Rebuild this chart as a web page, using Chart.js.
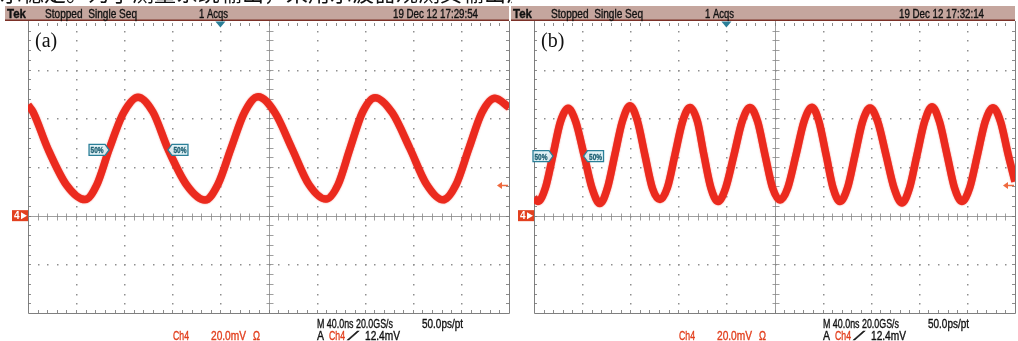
<!DOCTYPE html>
<html>
<head>
<meta charset="utf-8">
<script src="https://cdn.jsdelivr.net/npm/chart.js@4.4.1/dist/chart.umd.min.js"></script>
<style>
  html, body { margin: 0; padding: 0; background: #fff; }
  body { width: 1018px; height: 341px; position: relative; overflow: hidden; }
  canvas { position: absolute; top: 0; }
</style>
</head>
<body>
<canvas id="scopeA" width="512" height="341" style="left:0px"></canvas>
<canvas id="scopeB" width="512" height="341" style="left:506px"></canvas>
<script>
// Screen scale: 40 ns/div horizontally, 20 mV/div vertically.
const TIME_MIN = -200, TIME_MAX = 200, TIME_DIV = 40;
const VOLT_MIN = -40, VOLT_MAX = 80, VOLT_DIV = 20;

// Capture (a): ~10 MHz sine, time in ns, Ch4 level in mV
const timeA = [-200, -195.8, -183.4, -168, -152.6, -142.6, -132.6, -120.5, -108.5, -96, -83.6, -68.2,
               -52.8, -42, -31.2, -20, -8.7, 5.4, 19.5, 33.6, 47.8, 57.8, 67.8, 78.2, 88.6, 103,
               117.7, 131.4, 145.1, 156, 166.7, 177.5, 188.3, 200];
const voltA = [45.5, 42.6, 27.4, 12.6, 6.6, 12.9, 27.2, 42.3, 48.7, 42.5, 27.4, 12.7,
               6.4, 12.9, 27.6, 42.4, 48.9, 42.3, 27.6, 12.8, 6.8, 12.7, 27.6, 42.5, 48.5, 42.2,
               27.5, 12.9, 6.5, 12.8, 27.7, 42.4, 48.3, 44.5];

// Capture (b): ~20 MHz sine
const timeB = [-200, -196.7, -190.5, -184.2, -178, -171.7, -165.3, -158.4, -151.8, -145.1, -138.9, -132.7,
               -126.5, -120.2, -113.9, -107.8, -101.5, -95.2, -89, -82.8, -76.5, -70.3, -64, -58.7,
               -52.9, -47, -40.6, -33.7, -27, -20.4, -14, -7.9, -1.6, 4.6, 11, 17.9, 24.5, 31.2,
               37, 42.9, 48.7, 54.5, 60.7, 67, 73.2, 79.4, 85.9, 92.7, 99.4, 106, 112.3, 118.5,
               124.8, 131, 137.2, 143.5, 149.7, 155.9, 162.3, 168.8, 175.2, 181.7, 188, 194.4, 200];
const voltB = [7.2, 5.8, 11.4, 25.0, 38.6, 44.1, 38.6, 25.0, 11.4, 5.0, 11.4, 25.2,
               38.8, 45.2, 38.8, 25.0, 11.2, 6.6, 11.6, 25.0, 38.6, 44.5, 38.6, 25.0,
               11.4, 5.8, 11.4, 25.0, 38.6, 44.5, 38.6, 25.0, 11.4, 6.4, 11.4, 25.0, 38.6, 44.6,
               38.6, 25.0, 11.4, 5.8, 11.4, 25.0, 38.6, 44.2, 38.6, 25.0, 11.4, 5.2, 11.4, 25.0,
               38.6, 44.8, 38.6, 25.0, 11.4, 5.8, 11.4, 25.0, 38.6, 44.4, 38.6, 25.0, 14.0];

// 50% reference crossings (ns) and level (mV)
const halfCrossA = [-132.6, -83.6];
const halfLevelA = 27;
const halfCrossB = [-184.2, -158.8];
const halfLevelB = 24.5;

// Trigger settings
const triggerTime = -40;     // ns
const triggerLevel = 12.4;   // mV
const groundLevel = 0;       // mV

// Status texts
const statusA = { tag: '(a)', stamp: '19 Dec 12 17:29:54' };
const statusB = { tag: '(b)', stamp: '19 Dec 12 17:32:14' };
const captionText = '示稳定。为了测量系统输出，采用示波器观测其输出波形，如图所示。';

const TRACE_RED = '#eb2a1e';
const CH_RED = '#e2401f';
const TEAL = '#2b7f98';

// Draws text squeezed or stretched horizontally to a given width,
// with a hairline stroke to give the screen font its weight.
function fitText(ctx, text, x, y, width, font, color) {
  ctx.save();
  ctx.font = font;
  ctx.fillStyle = color;
  ctx.strokeStyle = color;
  ctx.lineWidth = 0.35;
  ctx.textBaseline = 'alphabetic';
  ctx.textAlign = 'left';
  const w = ctx.measureText(text).width;
  ctx.translate(x, y);
  ctx.scale(width / w, 1);
  ctx.fillText(text, 0, 0);
  ctx.strokeText(text, 0, 0);
  ctx.restore();
}

const SANS = '"Liberation Sans", Arial, sans-serif';

function drawGrid(chart) {
  const ctx = chart.ctx;
  const xs = chart.scales.x, ys = chart.scales.y;
  const { left, right, top, bottom } = chart.chartArea;
  const cx = Math.round(xs.getPixelForValue(0)) + 0.5;
  const cy = Math.round(ys.getPixelForValue(0)) + 0.5;
  const subT = TIME_DIV / 5, subV = VOLT_DIV / 5;
  ctx.save();
  // dotted division lines
  ctx.fillStyle = '#8f8f8f';
  for (let t = TIME_MIN + TIME_DIV; t < TIME_MAX; t += TIME_DIV) {
    if (t === 0) continue;
    const x = Math.round(xs.getPixelForValue(t));
    for (let v = VOLT_MIN + subV; v < VOLT_MAX; v += subV) {
      const y = Math.round(ys.getPixelForValue(v));
      ctx.fillRect(x, y, 1.5, 1.5);
    }
  }
  for (let v = VOLT_MIN + VOLT_DIV; v < VOLT_MAX; v += VOLT_DIV) {
    if (v === 0) continue;
    const y = Math.round(ys.getPixelForValue(v));
    for (let t = TIME_MIN + subT; t < TIME_MAX; t += subT) {
      const x = Math.round(xs.getPixelForValue(t));
      ctx.fillRect(x, y, 1.5, 1.5);
    }
  }
  // center cross with minor ticks
  ctx.strokeStyle = 'rgba(135,135,135,0.8)';
  ctx.lineWidth = 1;
  ctx.beginPath();
  ctx.moveTo(cx, top); ctx.lineTo(cx, bottom);
  ctx.moveTo(left, cy); ctx.lineTo(right, cy);
  for (let v = VOLT_MIN + subV; v < VOLT_MAX; v += subV) {
    const y = Math.round(ys.getPixelForValue(v)) + 0.5;
    ctx.moveTo(cx - 3, y); ctx.lineTo(cx + 4, y);
  }
  for (let t = TIME_MIN + subT; t < TIME_MAX; t += subT) {
    const x = Math.round(xs.getPixelForValue(t)) + 0.5;
    ctx.moveTo(x, cy - 3); ctx.lineTo(x, cy + 4);
  }
  ctx.stroke();
  // border with inward ticks
  ctx.strokeStyle = '#7f7f7f';
  ctx.beginPath();
  ctx.moveTo(left + 0.5, top); ctx.lineTo(left + 0.5, bottom + 0.5);
  ctx.lineTo(right + 0.5, bottom + 0.5); ctx.lineTo(right + 0.5, top);
  ctx.stroke();
  ctx.strokeStyle = 'rgba(120,120,120,0.85)';
  ctx.beginPath();
  for (let t = TIME_MIN + subT; t < TIME_MAX; t += subT) {
    const x = Math.round(xs.getPixelForValue(t)) + 0.5;
    ctx.moveTo(x, bottom); ctx.lineTo(x, bottom - 3);
    ctx.moveTo(x, top + 2); ctx.lineTo(x, top + 5);
  }
  for (let v = VOLT_MIN + subV; v < VOLT_MAX; v += subV) {
    const y = Math.round(ys.getPixelForValue(v)) + 0.5;
    ctx.moveTo(left, y); ctx.lineTo(left + 3, y);
    ctx.moveTo(right, y); ctx.lineTo(right - 3, y);
  }
  ctx.stroke();
  ctx.restore();
}

function drawHeader(chart, status, withCaption) {
  const ctx = chart.ctx;
  const { left, right } = chart.chartArea;
  ctx.save();
  if (withCaption) {
    ctx.font = '22px "Noto Sans CJK SC", sans-serif';
    ctx.fillStyle = '#111';
    ctx.textBaseline = 'alphabetic';
    ctx.fillText(captionText, 0, 0.5);
  }
  ctx.fillStyle = '#c5a69e';
  ctx.fillRect(left - 23, 6, right - left + 23, 14);
  ctx.fillStyle = '#7b3027';
  ctx.fillRect(left - 23, 19.5, right - left + 23, 1.5);
  ctx.restore();
  fitText(ctx, 'Tek', left - 21, 17.5, 19, 'bold 12px ' + SANS, '#111');
  fitText(ctx, 'Stopped  Single Seq', left + 17, 17.5, 92, '12px ' + SANS, '#111');
  fitText(ctx, '1 Acqs', left + 171, 17.5, 29, '12px ' + SANS, '#111');
  fitText(ctx, status.stamp, left + 365, 17.5, 85, '12px ' + SANS, '#111');
  // panel tag
  ctx.save();
  ctx.font = '20px "Liberation Serif", "DejaVu Serif", serif';
  ctx.fillStyle = '#111';
  ctx.textBaseline = 'alphabetic';
  ctx.fillText(status.tag, left + 7, 46.5);
  ctx.restore();
}

function drawFooter(chart) {
  const ctx = chart.ctx;
  const { left } = chart.chartArea;
  const f = '12px ' + SANS;
  fitText(ctx, 'M 40.0ns 20.0GS/s', left + 289, 327.5, 76, f, '#111');
  fitText(ctx, '50.0ps/pt', left + 394, 327.5, 41, f, '#111');
  fitText(ctx, 'Ch4', left + 145, 339.5, 16, f, CH_RED);
  fitText(ctx, '20.0mV', left + 183, 339.5, 35, f, CH_RED);
  fitText(ctx, 'Ω', left + 225, 339.5, 7, f, CH_RED);
  fitText(ctx, 'A', left + 289, 339.5, 7, f, '#111');
  fitText(ctx, 'Ch4', left + 301, 339.5, 16, f, CH_RED);
  fitText(ctx, '⁄', left + 324, 339.5, 4, f, '#111');
  fitText(ctx, '12.4mV', left + 337, 339.5, 35, f, '#111');
}

function drawMarkers(chart, crossings, level) {
  const ctx = chart.ctx;
  const xs = chart.scales.x, ys = chart.scales.y;
  const { left, right, top } = chart.chartArea;
  ctx.save();
  // trigger position marker
  const tx = xs.getPixelForValue(triggerTime);
  ctx.fillStyle = TEAL;
  ctx.beginPath();
  ctx.moveTo(tx - 5, top + 0.5); ctx.lineTo(tx + 5, top + 0.5); ctx.lineTo(tx, top + 6.5);
  ctx.closePath(); ctx.fill();
  // trigger level arrow
  const ty = ys.getPixelForValue(triggerLevel);
  ctx.strokeStyle = '#ef6a3f'; ctx.fillStyle = '#ef6a3f'; ctx.lineWidth = 1.5;
  ctx.beginPath(); ctx.moveTo(right - 9, ty); ctx.lineTo(right - 1, ty); ctx.stroke();
  ctx.beginPath(); ctx.moveTo(right - 12, ty); ctx.lineTo(right - 7, ty - 3.5); ctx.lineTo(right - 7, ty + 3.5);
  ctx.closePath(); ctx.fill();
  // channel ground marker
  const gy = ys.getPixelForValue(groundLevel);
  ctx.fillStyle = CH_RED;
  ctx.fillRect(left - 16, gy - 5.5, 16, 11);
  ctx.fillStyle = '#fff';
  ctx.font = 'bold 10px ' + SANS;
  ctx.textBaseline = 'middle';
  ctx.fillText('4', left - 14, gy + 0.5);
  ctx.beginPath(); ctx.moveTo(left - 7, gy - 3.5); ctx.lineTo(left - 1, gy); ctx.lineTo(left - 7, gy + 3.5);
  ctx.closePath(); ctx.fill();
  // 50% reference flags
  const ly = ys.getPixelForValue(level);
  crossings.forEach((t, i) => {
    const px = xs.getPixelForValue(t);
    const dir = i === 0 ? -1 : 1;       // first flag sits left of its crossing
    const tip = px, base = px + dir * 4, far = px + dir * 20;
    const x0 = Math.min(base, far), x1 = Math.max(base, far);
    ctx.beginPath();
    ctx.moveTo(tip, ly);
    ctx.lineTo(base, ly - 5.5); ctx.lineTo(far, ly - 5.5);
    ctx.lineTo(far, ly + 5.5); ctx.lineTo(base, ly + 5.5);
    ctx.closePath();
    ctx.fillStyle = 'rgba(222,240,244,0.95)';
    ctx.fill();
    ctx.strokeStyle = TEAL; ctx.lineWidth = 1.3; ctx.stroke();
    fitText(ctx, '50%', x0 + 1.5, ly + 3.5, x1 - x0 - 3, 'bold 9px ' + SANS, '#1f6174');
  });
  ctx.restore();
}

function makeScope(canvasId, times, volts, status, crossings, level, withCaption) {
  const points = times.map((t, i) => ({ x: t, y: volts[i] }));
  const screenPlugin = {
    id: 'screen' + canvasId,
    beforeDatasetsDraw(chart) {
      drawGrid(chart);
      drawHeader(chart, status, withCaption);
      drawFooter(chart);
    },
    beforeDatasetDraw(chart) {
      chart.ctx.save();
      chart.ctx.shadowColor = 'rgba(235,42,30,0.7)';
      chart.ctx.shadowBlur = 1.5;
    },
    afterDatasetDraw(chart) {
      chart.ctx.restore();
    },
    afterDatasetsDraw(chart) {
      drawMarkers(chart, crossings, level);
    }
  };
  return new Chart(document.getElementById(canvasId), {
    type: 'line',
    data: {
      datasets: [{
        data: points,
        borderColor: TRACE_RED,
        borderWidth: 7.5,
        pointRadius: 0,
        fill: false,
        cubicInterpolationMode: 'monotone',
        clip: { left: 0, right: 0, top: 8, bottom: 8 }
      }]
    },
    options: {
      responsive: false,
      animation: false,
      events: [],
      layout: { padding: { left: 28, top: 21, right: 3, bottom: 28 } },
      scales: {
        x: { type: 'linear', min: TIME_MIN, max: TIME_MAX, display: false },
        y: { type: 'linear', min: VOLT_MIN, max: VOLT_MAX, display: false }
      },
      plugins: { legend: { display: false }, tooltip: { enabled: false } }
    },
    plugins: [screenPlugin]
  });
}

makeScope('scopeA', timeA, voltA, statusA, halfCrossA, halfLevelA, true);
makeScope('scopeB', timeB, voltB, statusB, halfCrossB, halfLevelB, false);
</script>
</body>
</html>
